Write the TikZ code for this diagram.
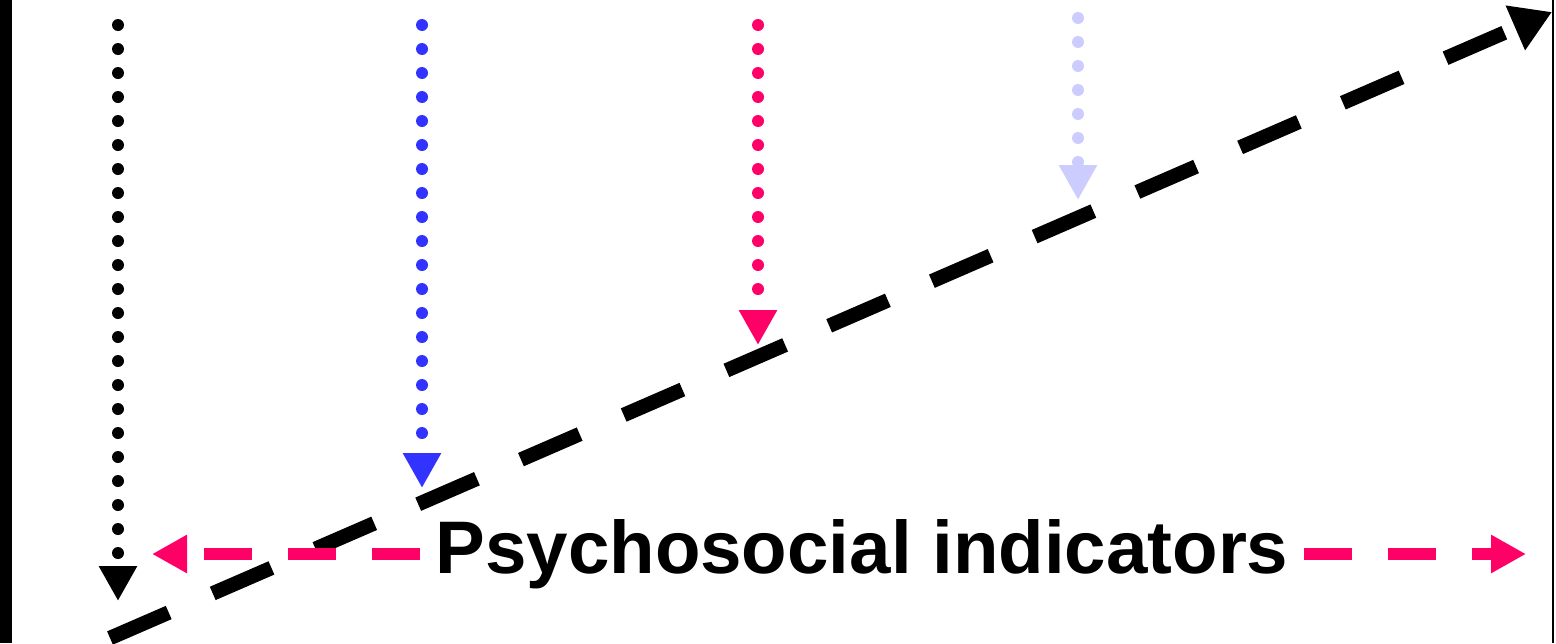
\documentclass[tikz,border=0pt]{standalone}
\usepackage{fontspec}
\setmainfont{Liberation Sans}
\usetikzlibrary{arrows.meta}
\definecolor{pathblue}{HTML}{3333FF}
\definecolor{pathpink}{HTML}{FF0066}
\definecolor{pathlilac}{HTML}{CCCCFF}
\tikzset{
  dotarrow/.style={line width=12pt, line cap=round, dash pattern=on 0pt off 24pt,
    -{Triangle[width=36pt,length=35pt]}},
  trendarrow/.style={line width=14.5pt, dash pattern=on 64pt off 48pt,
    -{Triangle[width=46pt,length=40pt]}},
  rangearrow/.style={pathpink, line width=12pt, dash pattern=on 48pt off 36pt,
    dash phase=76pt, -{Triangle[width=36pt,length=35pt]}},
}
\begin{document}
\begin{tikzpicture}[x=1pt, y=-1pt]
  \useasboundingbox (0,0) rectangle (1556,643);

  % frame
  \fill (0,0) rectangle (12,643);
  \draw[line width=2.5pt] (1553,0) -- (1553,643);

  \coordinate (k0) at (118,25);  \coordinate (k1) at (118,601);
  \coordinate (b0) at (422,25);  \coordinate (b1) at (422,488);
  \coordinate (p0) at (758,25);  \coordinate (p1) at (758,345);
  \coordinate (l0) at (1078,18); \coordinate (l1) at (1078,200);

  \draw[dotarrow] (k0) -- (k1);
  \draw[dotarrow, pathblue] (b0) -- (b1);
  \draw[dotarrow, pathpink] (p0) -- (p1);
  \draw[dotarrow, pathlilac] (l0) -- (l1);

  \coordinate (t0) at (110,638);
  \coordinate (t1) at (1552,12);
  \draw[trendarrow] (t0) -- (t1);

  \node[font=\fontsize{74.5}{80}\selectfont\bfseries, inner xsep=7pt, anchor=base]
    (label) at (862,573) {Psychosocial indicators};

  \coordinate (rangeL) at (152,554);
  \coordinate (rangeR) at (1526,554);
  \draw[rangearrow] (label.west |- rangeL) -- (rangeL);
  \draw[rangearrow] (label.east |- rangeR) -- (rangeR);
\end{tikzpicture}
\end{document}
